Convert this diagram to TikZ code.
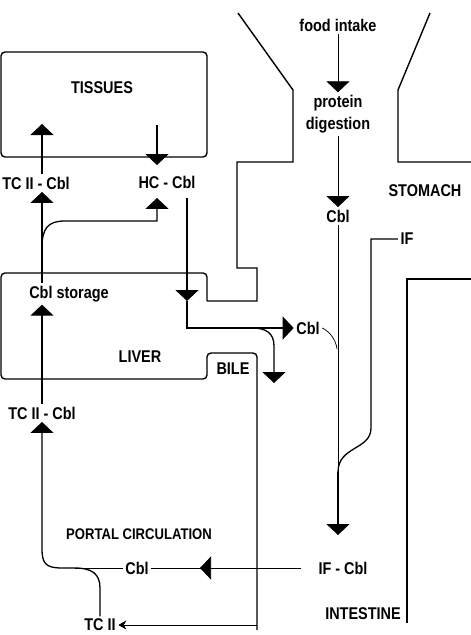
\documentclass[tikz,border=0pt]{standalone}
\usepackage{fontspec}
\setmainfont{Liberation Sans}[FakeStretch=0.85]
\usetikzlibrary{arrows.meta}

\begin{document}
\begin{tikzpicture}[x=1pt, y=-1pt, >={Triangle[width=23pt, length=11pt]},
    every node/.style={font=\fontsize{17}{22}\selectfont\bfseries, inner sep=2.5pt},
    wall/.style={line width=1.4pt},
    flow/.style={line width=1.3pt},
    thinflow/.style={line width=0.7pt},
    smalltip/.style={-{Stealth[width=9pt, length=8pt]}},
    smalltext/.style={font=\fontsize{15.4}{18}\selectfont\bfseries}]
    \useasboundingbox (0,0) rectangle (471,635);

    % Define labels
    \node (food) at (338,25) {food intake};
    \node[align=center] (digest) at (338,114) {protein\\digestion};
    \node (cblS) at (338,216) {Cbl};
    \node (stomach) at (425,191) {STOMACH};
    \node (iflab) at (407,239) {IF};
    \node (ifcbl) at (343,568) {IF - Cbl};
    \node (intestine) at (363,614) {INTESTINE};
    \node (tissues) at (102,88) {TISSUES};
    \node (tcA) at (36,183) {TC II - Cbl};
    \node (hc) at (167,182) {HC - Cbl};
    \node (storage) at (69,294) {Cbl storage};
    \node (liver) at (140,357) {LIVER};
    \node (bile) at (233,369) {BILE};
    \node (cblB) at (308,328) {Cbl};
    \node (tcB) at (42,413) {TC II - Cbl};
    \node[smalltext] (portal) at (139,534) {PORTAL CIRCULATION};
    \node (cblP) at (137,568) {Cbl};
    \node (tc2) at (100,625) {TC II};

    % Define bends
    \coordinate (tisL) at (42,124);
    \coordinate (tisR) at (157,125);
    \coordinate (branch) at (42,248);
    \coordinate (hcIn) at (157,221);
    \coordinate (hcOut) at (187,198);
    \coordinate (livIn) at (187,301);
    \coordinate (livOut) at (187,328);
    \coordinate (bileBr) at (252,328);
    \coordinate (bileTip) at (274,383);
    \coordinate (touch) at (337,349);
    \coordinate (ifTurn) at (371,428);
    \coordinate (merge) at (338,472);
    \coordinate (ifTip) at (338,535);
    \coordinate (portTip) at (200,568);
    \coordinate (portTurn) at (42,548);
    \coordinate (tcJoin) at (75,568);
    \coordinate (bileOut) at (257,625);

    % Draw walls
    \draw[wall, rounded corners=4] (1,52) rectangle (207,157);
    \draw[wall, rounded corners=4] (207,301) -- (207,273) -- (1,273) -- (1,379) -- (207,379) -- (207,353) -- (257,353) -- (257,630); % liver and bile
    \draw[wall] (207,301) -- (257,301) -- (257,268) -- (237,268) -- (237,162) -- (293,162) -- (293,90) -- (238,13); % stomach left
    \draw[wall] (430,13) -- (398,90) -- (398,162) -- (471,162); % stomach right
    \draw[wall] (471,279) -- (407,279) -- (407,623); % intestine

    % Draw flows
    \draw[thinflow, ->] (food) -- (digest);
    \draw[thinflow, ->] (digest) -- (cblS);
    \draw[thinflow] (cblS) -- (merge);
    \draw[flow] (iflab.west) -| (ifTurn) .. controls (371,450) and (338,446) .. (merge);
    \draw[flow, ->] (merge) -- (ifTip);
    \draw[thinflow, shorten <=15pt] (ifcbl.west) -- (cblP.east);
    \draw[thinflow, ->, shorten <=15pt] (ifcbl.west) -- (portTip);
    \draw[thinflow] (cblP.west) -- (tcJoin);
    \draw[flow, ->] (tcJoin) -- (62,568) .. controls (45,568) and (42,563) .. (portTurn) -- (tcB.south);
    \draw[flow] (tc2.north) -- (100,588) .. controls (100,574) and (92,568) .. (tcJoin);
    \draw[thinflow, smalltip] (bileOut) -- (tc2.east);
    \draw[flow, ->] (tcB.north) -- (tcB.north |- storage.south);
    \draw[flow, ->] (tcB.north |- storage.north) -- (tcB.north |- tcA.south);
    \draw[flow, ->, shorten >=7pt] (branch) .. controls (42,228) and (48,221) .. (65,221) -- (hcIn) -- (hcIn |- hc.south);
    \draw[flow, ->] (tcA.north -| tisL) -- (tisL);
    \draw[flow, ->, shorten >=8pt] (tisR) -- (tisR |- hc.north);
    \draw[flow, ->] (hcOut) -- (livIn);
    \draw[flow, ->] (livIn) -- (livOut) -- (cblB.west);
    \draw[flow, ->] (bileBr) .. controls (266,328) and (274,333) .. (274,346) -- (bileTip);
    \draw[thinflow] (cblB.east) .. controls (330,332) and (336,340) .. (touch);
\end{tikzpicture}
\end{document}
